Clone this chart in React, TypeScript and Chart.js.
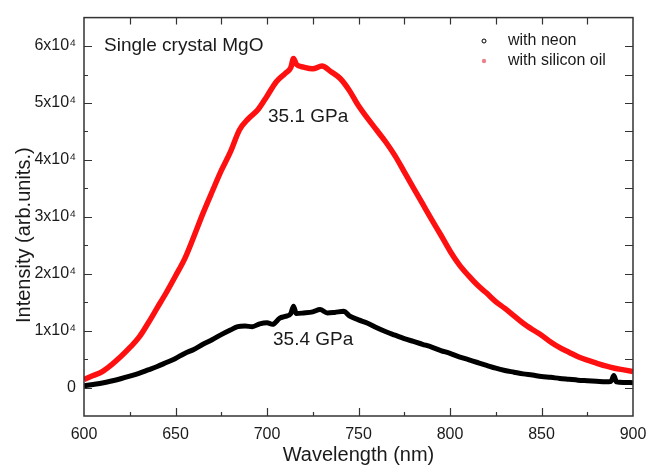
import React, { useEffect, useRef } from "react";
import { Chart, registerables } from "chart.js";

Chart.register(...registerables);

// Wavelength (nm) and intensity (arb. units)
const neonWavelength = [
  600, 605, 610, 615, 620, 625, 630, 635, 640, 645, 650, 655, 660, 665, 670, 675, 680, 684, 688, 692,
  696, 700, 703, 707, 710, 713, 714.5, 716, 720, 725, 729, 733, 737, 742, 745, 750, 755, 760, 765, 770,
  775, 780, 785, 790, 795, 800, 805, 810, 815, 820, 825, 830, 835, 840, 845, 850, 855, 860, 865, 870,
  875, 880, 885, 888, 889.5, 891, 895, 900,
];
const neonIntensity = [
  300, 550, 800, 1150, 1550, 2000, 2500, 3100, 3700, 4400, 5100, 6000, 6700, 7600, 8400, 9300, 10100, 10700, 10800, 10700,
  11200, 11400, 11100, 12200, 12500, 13000, 14300, 13000, 13100, 13300, 13700, 13100, 13200, 13400, 12600, 11900, 11300, 10500, 9800, 9200,
  8600, 8100, 7600, 7100, 6500, 6000, 5400, 4900, 4400, 3900, 3400, 3000, 2700, 2400, 2200, 1950, 1800, 1600, 1450, 1300,
  1200, 1100, 1000, 1100, 2100, 1000, 900, 850,
];

const oilWavelength = [
  600, 605, 610, 615, 620, 625, 630, 635, 640, 645, 650, 655, 660, 665, 670, 675, 680, 685, 690, 695,
  700, 705, 710, 713, 714.5, 716, 720, 725, 730, 735, 740, 745, 750, 755, 760, 765, 770, 775, 780, 785,
  790, 795, 800, 805, 810, 815, 820, 825, 830, 835, 840, 845, 850, 855, 860, 865, 870, 875, 880, 885,
  890, 895, 900,
];
const oilIntensity = [
  1400, 2100, 2800, 4000, 5400, 7000, 8800, 11300, 14000, 16700, 19600, 22600, 26500, 30600, 34400, 38100, 41400, 45300, 47300, 48800,
  51200, 53700, 55200, 56200, 57800, 56800, 56300, 56000, 56500, 55500, 54300, 52200, 49500, 47300, 45200, 43100, 40700, 37900, 35100, 32300,
  29500, 26800, 24000, 21600, 19700, 18000, 16600, 15100, 13900, 12600, 11300, 10200, 9200, 8000, 7000, 6200, 5400, 4800, 4300, 3800,
  3400, 3100, 2800,
];

const seriesLabels = ["with neon", "with silicon oil"];
const xTicksMajor = [600, 650, 700, 750, 800, 850, 900];
const yTicksMajor = [0, 10000, 20000, 30000, 40000, 50000, 60000];
const annotationTexts = ["Single crystal MgO", "35.1 GPa", "35.4 GPa"];
const xTitle = "Wavelength (nm)";
const yTitle = "Intensity (arb.units.)";

const FONT = "'Liberation Sans', Arial, sans-serif";
const TEXT = "#1a1a1a";
const AXIS = "#333333";

function fmtY(v: number): string {
  if (v === 0) return "0";
  return `${v / 10000}x10\u2074`;
}

const framePlugin = {
  id: "originFrame",
  afterDatasetsDraw(chart: any) {
    const { ctx, chartArea: a, scales } = chart;
    const xs = scales.x;
    const ys = scales.y;
    ctx.save();
    ctx.strokeStyle = AXIS;
    ctx.lineWidth = 1.5;
    ctx.strokeRect(a.left, a.top, a.right - a.left, a.bottom - a.top);
    ctx.lineWidth = 1.2;
    ctx.beginPath();
    for (let v = 600; v <= 900; v += 25) {
      const px = Math.round(xs.getPixelForValue(v)) + 0.5;
      const major = xTicksMajor.includes(v);
      if (v !== 600 && v !== 900) {
        ctx.moveTo(px, a.bottom);
        ctx.lineTo(px, a.bottom - (major ? 8 : 4));
        ctx.moveTo(px, a.top);
        ctx.lineTo(px, a.top + 7);
      }
    }
    for (let v = 0; v <= 60000; v += 5000) {
      const py = Math.round(ys.getPixelForValue(v)) + 0.5;
      const major = yTicksMajor.includes(v);
      ctx.moveTo(a.left, py);
      ctx.lineTo(a.left + (major ? 8 : 4), py);
      ctx.moveTo(a.right, py);
      ctx.lineTo(a.right - 8, py);
    }
    ctx.stroke();

    // annotations
    ctx.fillStyle = TEXT;
    ctx.textBaseline = "middle";
    ctx.textAlign = "left";
    ctx.font = `19px ${FONT}`;
    ctx.fillText(annotationTexts[0], 104, 46);
    ctx.fillText(annotationTexts[1], 268, 117);
    ctx.fillText(annotationTexts[2], 273, 340);

    // legend
    const ds = chart.data.datasets;
    const neon = ds.find((d: any) => d.label === seriesLabels[0]);
    const oil = ds.find((d: any) => d.label === seriesLabels[1]);
    ctx.font = `16px ${FONT}`;
    ctx.fillText(neon.label, 508, 41);
    ctx.fillText(oil.label, 508, 61);
    ctx.beginPath();
    ctx.arc(484, 41, 2, 0, Math.PI * 2);
    ctx.strokeStyle = "#000";
    ctx.lineWidth = 1;
    ctx.stroke();
    ctx.beginPath();
    ctx.arc(484, 61, 2.2, 0, Math.PI * 2);
    ctx.fillStyle = "rgba(225,90,100,0.75)";
    ctx.fill();

    // y title
    ctx.fillStyle = TEXT;
    ctx.font = `20px ${FONT}`;
    ctx.translate(24, 323);
    ctx.rotate(-Math.PI / 2);
    ctx.textAlign = "left";
    ctx.textBaseline = "middle";
    ctx.fillText(yTitle, 0, 0);
    ctx.restore();
  },
};

export default function App() {
  const ref = useRef<HTMLCanvasElement | null>(null);

  useEffect(() => {
    if (!ref.current) return;
    const chart = new Chart(ref.current, {
      type: "scatter",
      data: {
        datasets: [
          {
            label: seriesLabels[0],
            data: neonWavelength.map((x, i) => ({ x, y: neonIntensity[i] })),
            showLine: true,
            borderColor: "#000000",
            borderWidth: 5,
            borderJoinStyle: "round",
            cubicInterpolationMode: "monotone",
            pointRadius: 0,
            order: 1,
          },
          {
            label: seriesLabels[1],
            data: oilWavelength.map((x, i) => ({ x, y: oilIntensity[i] })),
            showLine: true,
            borderColor: "#ff1010",
            borderWidth: 5.5,
            borderJoinStyle: "round",
            cubicInterpolationMode: "monotone",
            pointRadius: 0,
            order: 2,
          },
        ] as any,
      },
      options: {
        responsive: false,
        animation: false,
        layout: { padding: { top: 12, right: 25, left: 0, bottom: 0 } },
        plugins: { legend: { display: false }, tooltip: { enabled: false } },
        scales: {
          x: {
            type: "linear",
            min: 600,
            max: 900,
            grid: { display: false, drawTicks: false },
            border: { display: false },
            afterBuildTicks: (s: any) => {
              s.ticks = xTicksMajor.map((v) => ({ value: v }));
            },
            ticks: {
              padding: 9,
              color: TEXT,
              font: { family: FONT, size: 16 },
              maxRotation: 0,
              autoSkip: false,
            },
            title: {
              display: true,
              text: xTitle,
              color: TEXT,
              font: { family: FONT, size: 20, lineHeight: 1.1 },
              padding: { top: 0, bottom: 0 },
            },
            afterFit: (s: any) => {
              s.height = 50;
            },
          },
          y: {
            type: "linear",
            min: -5000,
            max: 65000,
            grid: { display: false, drawTicks: false },
            border: { display: false },
            afterBuildTicks: (s: any) => {
              s.ticks = yTicksMajor.map((v) => ({ value: v }));
            },
            ticks: {
              padding: 8,
              color: TEXT,
              font: { family: FONT, size: 16 },
              autoSkip: false,
              callback: (v: any) => fmtY(Number(v)),
            },
            afterFit: (s: any) => {
              s.width = 84;
            },
          },
        },
      },
      plugins: [framePlugin],
    });
    return () => chart.destroy();
  }, []);

  return (
    <div style={{ position: "fixed", left: 0, top: 0, width: 658, height: 466, background: "#fff" }}>
      <canvas ref={ref} width={658} height={466} style={{ display: "block" }} />
    </div>
  );
}
